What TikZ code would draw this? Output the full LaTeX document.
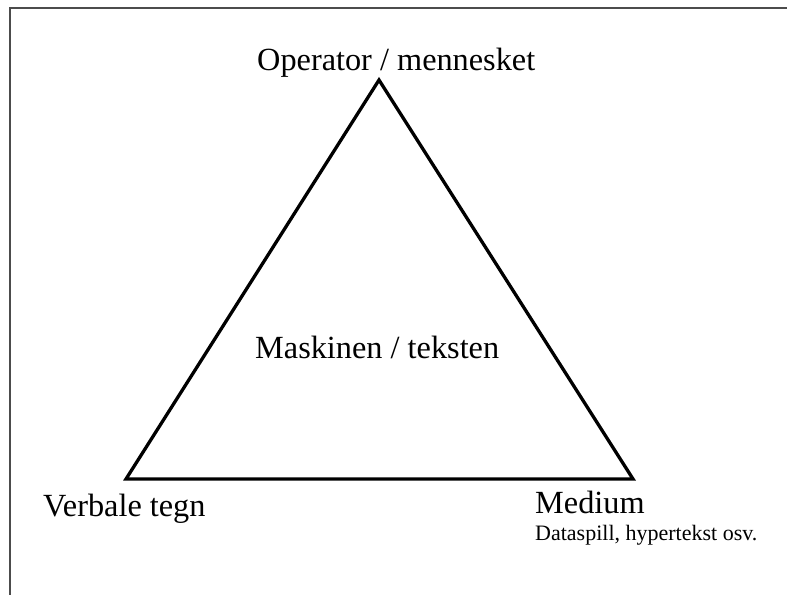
\documentclass[tikz,border=0pt]{standalone}
\usepackage{fontspec}
\setmainfont{Liberation Serif}
\begin{document}
\begin{tikzpicture}[x=1pt,y=-1pt,
  big/.style={font=\fontsize{32.3}{38}\selectfont, inner sep=0pt, anchor=base west},
  small/.style={font=\fontsize{22}{26}\selectfont, inner sep=0pt, anchor=base west},
  tri/.style={line width=3.3pt, line join=miter},
  frame/.style={line width=2pt, draw=black!70}]
\useasboundingbox (0,0) rectangle (787,595);
\coordinate (ftl) at (9.5,7.5);
\coordinate (ftr) at (787,7.5);
\coordinate (fbl) at (9.5,595);
\draw[frame] (ftr) -- (ftl) -- (fbl);
\coordinate (top) at (379,80);
\coordinate (bl) at (126,479);
\coordinate (br) at (633,479);
\draw[tri] (top) -- (bl) -- (br) -- cycle;
\node[big] (op) at (257,70) {Operator / mennesket};
\node[big] (mask) at (255,358) {Maskinen / teksten};
\node[big] (verb) at (43,516) {Verbale tegn};
\node[big] (med) at (535,513) {Medium};
\node[small] (data) at (535,540) {Dataspill, hypertekst osv.};
\end{tikzpicture}
\end{document}
